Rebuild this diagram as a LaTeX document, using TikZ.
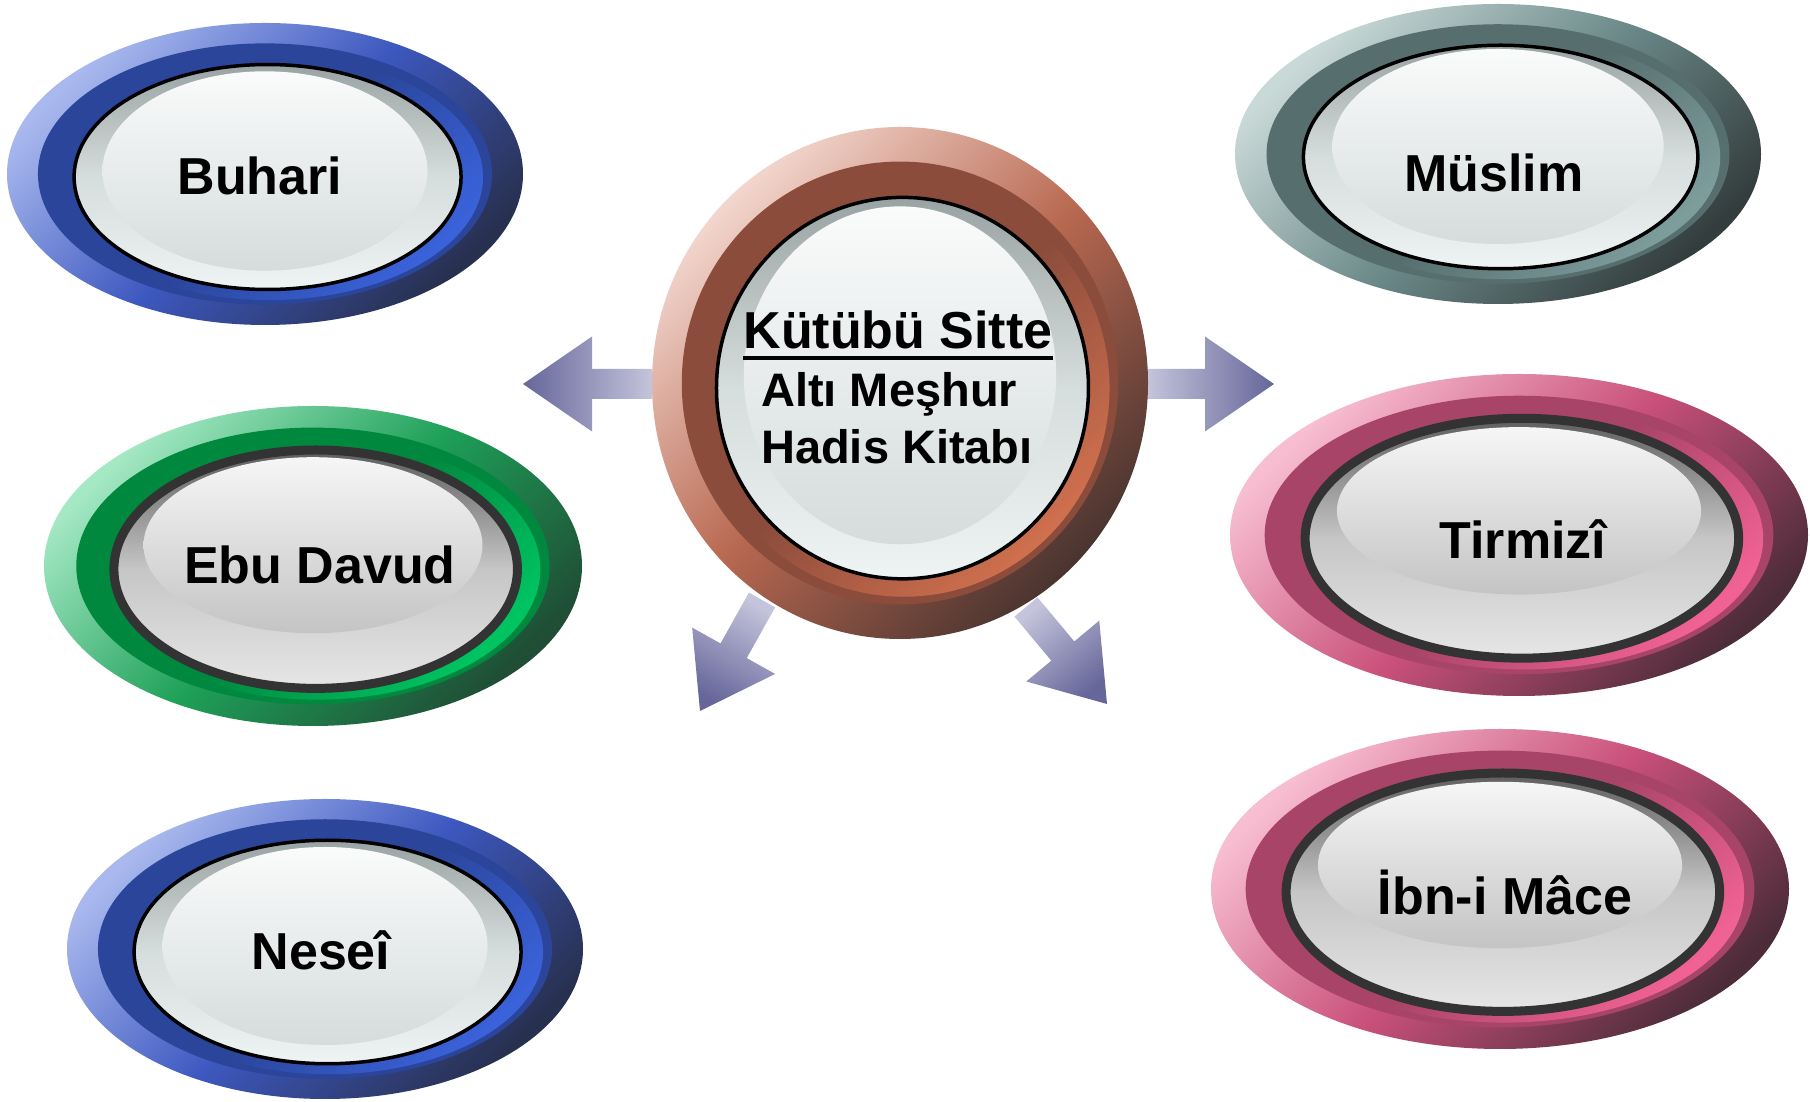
\documentclass[tikz,border=0pt]{standalone}
\usepackage{fontspec}
\setmainfont{Liberation Sans}
\usetikzlibrary{calc}

\definecolor{bluelight}{HTML}{A9B9EE}
\definecolor{bluemid}{HTML}{3D58C0}
\definecolor{bluedark}{HTML}{28304F}
\definecolor{blueband}{HTML}{2A4599}
\definecolor{bluering}{HTML}{3A62DA}
\definecolor{greenlight}{HTML}{A4E8C4}
\definecolor{greenmid}{HTML}{1EA058}
\definecolor{greendark}{HTML}{1F4D35}
\definecolor{greenband}{HTML}{00883F}
\definecolor{greenring}{HTML}{00C462}
\definecolor{teallight}{HTML}{C9D9D7}
\definecolor{tealmid}{HTML}{6C8A8A}
\definecolor{tealdark}{HTML}{343D3D}
\definecolor{tealband}{HTML}{566E6E}
\definecolor{tealring}{HTML}{7D9C9C}
\definecolor{pinklight}{HTML}{F7BDD0}
\definecolor{pinkmid}{HTML}{C9507A}
\definecolor{pinkdark}{HTML}{4D2C3A}
\definecolor{pinkband}{HTML}{A84468}
\definecolor{pinkring}{HTML}{F06294}
\definecolor{brownlight}{HTML}{F2D6CE}
\definecolor{brownmid}{HTML}{B86850}
\definecolor{browndark}{HTML}{4A3430}
\definecolor{brownband}{HTML}{8C4C3C}
\definecolor{brownring}{HTML}{D0704E}
\definecolor{cooltop}{HTML}{9AA3A3}
\definecolor{coolmid}{HTML}{D6DDDD}
\definecolor{coolbot}{HTML}{EEF3F3}
\definecolor{coolhitop}{HTML}{FAFBFB}
\definecolor{coolhibot}{HTML}{D5DCDC}
\definecolor{greytop}{HTML}{5E5E5E}
\definecolor{greymid}{HTML}{C6C6C6}
\definecolor{greybot}{HTML}{E6E6E6}
\definecolor{greyhitop}{HTML}{F6F6F6}
\definecolor{greyhibot}{HTML}{C4C4C4}
\definecolor{arrowlight}{HTML}{C4C4DC}
\definecolor{arrowdark}{HTML}{66669A}

\tikzset{
  knobtext/.style = {font=\fontsize{52}{60}\selectfont\bfseries, inner sep=0pt, anchor=base},
  subtext/.style = {font=\fontsize{47}{56}\selectfont\bfseries, inner sep=0pt, anchor=base west},
  arrowshade/.style = {left color=arrowlight, right color=arrowdark},
  coolrim/.style = {draw=black, line width=3.5pt},
  greyrim/.style = {draw=black!80, line width=9pt}
}

% #1,#2 centre, #3,#4 radii, #5 ring colours, #6 face colours, #7,#8 highlight
\newcommand{\knob}[8]{%
  \shade[top color=#5light, bottom color=#5dark, middle color=#5mid, shading angle=45]
    (#1,#2) ellipse [x radius=#3, y radius=#4];
  \fill[#5band] (#1,#2) ellipse [x radius=0.88*#3, y radius=0.865*#4];
  \shade[top color=#5band, bottom color=#5ring, middle color=#5band, shading angle=45]
    ({#1+0.015*#3},{#2-0.02*#4}) ellipse [x radius=0.83*#3, y radius=0.815*#4];
  \shade[#6rim, top color=#6top, bottom color=#6bot, middle color=#6mid]
    ({#1+0.01*#3},{#2-0.02*#4}) ellipse [x radius=0.75*#3, y radius=0.745*#4];
  \shade[top color=#6hitop, bottom color=#6hibot]
    ({#1},{#2+#8*#4}) ellipse [x radius=0.63*#3, y radius=#7*#4];
}

% #1 tail, #2 tip, #3 shading angle
\newcommand{\blockarrow}[3]{%
  \path ($(#2)!69pt!(#1)$) coordinate (neck);
  \shade[arrowshade, shading angle=#3]
    ($(#1)!15pt!90:(#2)$) -- ($(neck)!15pt!90:(#2)$) -- ($(neck)!47.5pt!90:(#2)$) -- (#2)
    -- ($(neck)!47.5pt!-90:(#2)$) -- ($(neck)!15pt!-90:(#2)$) -- ($(#1)!15pt!-90:(#2)$) -- cycle;
}

\begin{document}
\begin{tikzpicture}[x=1pt, y=1pt]
   \fill[white] (0,0) rectangle (1810,1102);
   \useasboundingbox (0,0) rectangle (1810,1102);

   \coordinate (tailW) at (652,718);
   \coordinate (tipW) at (523,718);
   \coordinate (tailE) at (1147,718);
   \coordinate (tipE) at (1274,718);
   \coordinate (tailSW) at (762,502);
   \coordinate (tipSW) at (700,391);
   \coordinate (tailSE) at (1026,495);
   \coordinate (tipSE) at (1107,398);
   \blockarrow{tailW}{tipW}{270}
   \blockarrow{tailE}{tipE}{90}
   \blockarrow{tailSW}{tipSW}{330.8}
   \blockarrow{tailSE}{tipSE}{39.9}

   \knob{265}{928}{258}{151}{blue}{cool}{0.66}{0.02}
   \knob{313}{536}{269}{160}{green}{grey}{0.55}{0.13}
   \knob{325}{153}{258}{150}{blue}{cool}{0.66}{0.02}
   \knob{900}{719}{248}{256}{brown}{cool}{0.66}{0.03}
   \knob{1498}{948}{263}{150}{teal}{cool}{0.65}{0.05}
   \knob{1519}{567}{289}{161}{pink}{grey}{0.52}{0.15}
   \knob{1500}{213}{289}{160}{pink}{grey}{0.52}{0.15}

   \node[knobtext] (kutub) at (898,753) {Kütübü Sitte};
   \draw[line width=4pt] ($(kutub.base west)+(0,-9)$) -- ($(kutub.base east)+(0,-9)$);
   \node[subtext] (altimeshur) at (761,695) {Altı Meşhur};
   \node[subtext] (hadiskitabi) at (761,638) {Hadis Kitabı};

   \node[knobtext] (buhari) at (260,907) {Buhari};
   \node[knobtext] (ebudavud) at (320,518) {Ebu Davud};
   \node[knobtext] (nesei) at (321,132) {Neseî};
   \node[knobtext] (muslim) at (1494,910) {Müslim};
   \node[knobtext] (tirmizi) at (1523,543) {Tirmizî};
   \node[knobtext] (ibnimace) at (1505,187) {İbn-i Mâce};
\end{tikzpicture}
\end{document}
